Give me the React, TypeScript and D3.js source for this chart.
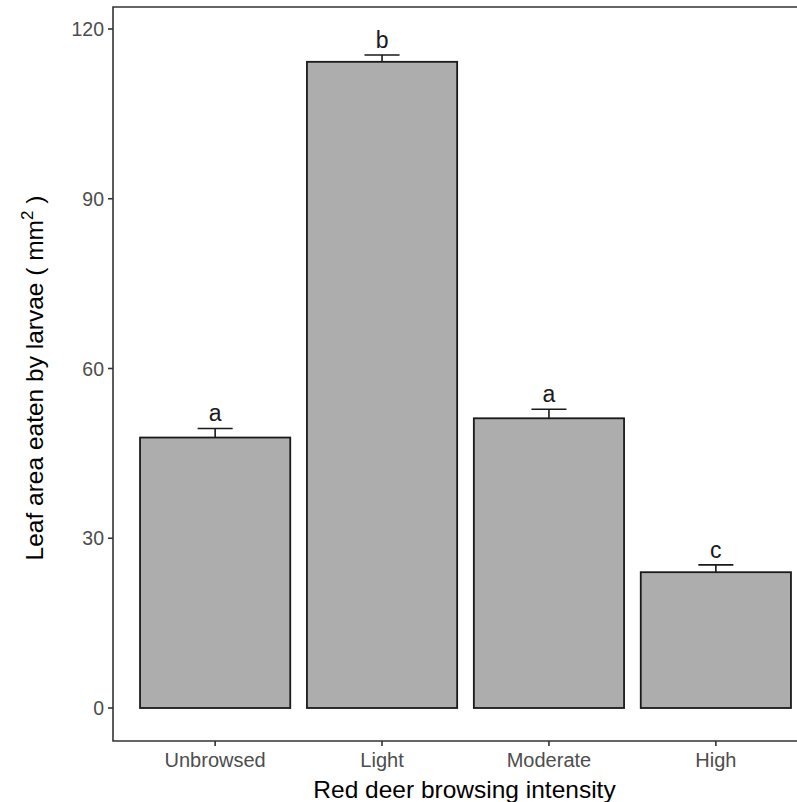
import React, { useEffect, useRef } from 'react';
import * as d3 from 'd3';

// Dados
const categories = ['Unbrowsed', 'Light', 'Moderate', 'High'];
const means = [47.8, 114.2, 51.2, 24.0];
const upperErr = [49.4, 115.4, 52.8, 25.3];
const letters = ['a', 'b', 'a', 'c'];
const yTicks = [0, 30, 60, 90, 120];

const App: React.FC = () => {
  const svgRef = useRef<SVGSVGElement>(null);

  useEffect(() => {
    const width = 797;
    const height = 802;
    const left = 113;
    const right = 816; // painel passa da borda da imagem
    const top = 7;
    const bottom = 741;
    const font = '"Liberation Sans", Arial, Helvetica, sans-serif';

    const svg = d3.select(svgRef.current)
      .attr('width', width)
      .attr('height', height);
    svg.selectAll('*').remove();

    const x = d3.scaleBand<string>()
      .domain(categories)
      .range([left + 2, right])
      .paddingInner(0.1)
      .paddingOuter(0.15);

    const y = d3.scaleLinear()
      .domain([0, 120])
      .range([708, 29]);

    const data = categories.map((c, i) => ({
      cat: c, mean: means[i], up: upperErr[i], letter: letters[i]
    }));

    const ew = x.step() * 0.21;

    // barras de erro (parte inferior escondida pela barra)
    svg.append('g').selectAll('path')
      .data(data)
      .enter().append('path')
      .attr('d', (d: any) => {
        const cx = (x(d.cat) as number) + x.bandwidth() / 2;
        return `M${cx - ew / 2},${y(d.up)}H${cx + ew / 2}M${cx},${y(d.up)}V${y(d.mean)}`;
      })
      .attr('fill', 'none')
      .attr('stroke', '#1a1a1a')
      .attr('stroke-width', 1.6);

    // barras
    svg.append('g').selectAll('rect')
      .data(data)
      .enter().append('rect')
      .attr('x', (d: any) => x(d.cat) as number)
      .attr('y', (d: any) => y(d.mean))
      .attr('width', x.bandwidth())
      .attr('height', (d: any) => y(0) - y(d.mean))
      .attr('fill', '#adadad')
      .attr('stroke', '#1a1a1a')
      .attr('stroke-width', 1.8);

    // letras de significância
    svg.append('g').selectAll('text')
      .data(data)
      .enter().append('text')
      .attr('x', (d: any) => (x(d.cat) as number) + x.bandwidth() / 2)
      .attr('y', (d: any) => y(d.up) - 7)
      .attr('text-anchor', 'middle')
      .attr('font-family', font)
      .attr('font-size', 23)
      .attr('fill', '#1a1a1a')
      .text((d: any) => d.letter);

    // contorno do painel (esquerda, topo, base)
    svg.append('path')
      .attr('d', `M${right},${top}H${left}V${bottom}H${right}`)
      .attr('fill', 'none')
      .attr('stroke', '#333333')
      .attr('stroke-width', 1.6);

    // eixo y
    const yg = svg.append('g');
    yTicks.forEach((t) => {
      yg.append('line')
        .attr('x1', left - 5).attr('x2', left)
        .attr('y1', y(t)).attr('y2', y(t))
        .attr('stroke', '#333333').attr('stroke-width', 1.6);
      yg.append('text')
        .attr('x', left - 9)
        .attr('y', y(t))
        .attr('dy', '0.36em')
        .attr('text-anchor', 'end')
        .attr('font-family', font)
        .attr('font-size', 19.5)
        .attr('fill', '#4d4d4d')
        .text(t);
    });

    // eixo x
    const xg = svg.append('g');
    categories.forEach((c) => {
      const cx = (x(c) as number) + x.bandwidth() / 2;
      xg.append('line')
        .attr('x1', cx).attr('x2', cx)
        .attr('y1', bottom).attr('y2', bottom + 5)
        .attr('stroke', '#333333').attr('stroke-width', 1.6);
      xg.append('text')
        .attr('x', cx)
        .attr('y', 767)
        .attr('text-anchor', 'middle')
        .attr('font-family', font)
        .attr('font-size', 20)
        .attr('fill', '#4d4d4d')
        .text(c);
    });

    // títulos dos eixos
    svg.append('text')
      .attr('x', (left + right) / 2)
      .attr('y', 798)
      .attr('text-anchor', 'middle')
      .attr('font-family', font)
      .attr('font-size', 24.5)
      .attr('fill', '#000')
      .text('Red deer browsing intensity');

    const yt = svg.append('text')
      .attr('transform', `translate(43,378) rotate(-90)`)
      .attr('text-anchor', 'middle')
      .attr('font-family', font)
      .attr('font-size', 24.5)
      .attr('fill', '#000');
    yt.append('tspan').text('Leaf area eaten by larvae ( mm');
    yt.append('tspan').attr('dy', -10).attr('font-size', 17).text('2');
    yt.append('tspan').attr('dy', 10).text(' )');
  }, []);

  return (
    <svg ref={svgRef} style={{ position: 'absolute', left: 0, top: 0 }}></svg>
  );
};

export default App;
